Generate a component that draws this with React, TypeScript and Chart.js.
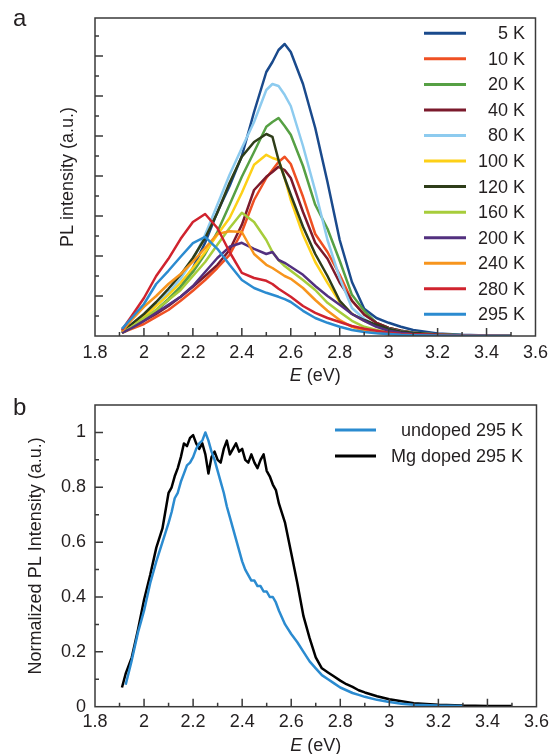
import React, { useEffect, useRef } from "react";
import { Chart, registerables } from "chart.js";

Chart.register(...registerables);

const FONT = "'Liberation Sans', Arial, Helvetica, sans-serif";
const INK = "#231f20";
const FRAME = "#3a3a3a";

// ---------- Panel a: PL spectra vs temperature ----------
const E_A = [1.91, 1.95, 2.0, 2.05, 2.1, 2.15, 2.2, 2.25, 2.3, 2.35, 2.4, 2.45, 2.5, 2.525, 2.55, 2.575, 2.6, 2.65, 2.7, 2.75, 2.8, 2.85, 2.9, 2.95, 3.0, 3.05, 3.1, 3.2, 3.3, 3.4, 3.5];
const TEMPS = ["5 K", "10 K", "20 K", "40 K", "80 K", "100 K", "120 K", "160 K", "200 K", "240 K", "280 K", "295 K"];
const COLORS_A = ["#1a4a8c", "#ef5023", "#56a044", "#7b1a2c", "#8dcbef", "#fdd017", "#2e3d19", "#a7cd3b", "#52307f", "#f7951d", "#d0232e", "#2b8bd0"];

const S5 = [0.08, 0.2, 0.4, 0.63, 0.9, 1.23, 1.7, 2.33, 3.1, 3.75, 4.5, 5.6, 6.6, 6.85, 7.15, 7.3, 7.1, 6.3, 5.2, 3.85, 2.4, 1.35, 0.68, 0.45, 0.33, 0.23, 0.15, 0.06, 0.03, 0.015, 0.01];
const S10 = [0.08, 0.18, 0.3, 0.48, 0.65, 0.88, 1.13, 1.4, 1.7, 2.03, 2.6, 3.4, 3.95, 4.15, 4.35, 4.48, 4.3, 3.48, 2.55, 2.1, 1.53, 0.88, 0.55, 0.33, 0.2, 0.13, 0.08, 0.03, 0.015, 0.01, 0.005];
const S20 = [0.08, 0.2, 0.4, 0.65, 0.93, 1.23, 1.6, 2.05, 2.6, 3.28, 3.98, 4.6, 5.23, 5.35, 5.45, 5.25, 5.03, 4.25, 3.28, 2.68, 1.88, 1.03, 0.63, 0.33, 0.2, 0.13, 0.08, 0.04, 0.02, 0.01, 0.005];
const S40 = [0.1, 0.23, 0.38, 0.55, 0.75, 0.98, 1.23, 1.5, 1.78, 2.15, 2.78, 3.65, 3.98, 4.1, 4.23, 4.15, 3.95, 3.1, 2.33, 1.93, 1.33, 0.88, 0.53, 0.33, 0.2, 0.13, 0.08, 0.03, 0.015, 0.01, 0.005];
const S80 = [0.1, 0.28, 0.5, 0.78, 1.08, 1.43, 1.9, 2.53, 3.28, 4.03, 4.7, 5.35, 6.15, 6.3, 6.25, 6.03, 5.75, 4.75, 3.63, 2.4, 1.45, 0.7, 0.43, 0.25, 0.18, 0.11, 0.08, 0.04, 0.02, 0.01, 0.005];
const S100 = [0.1, 0.25, 0.48, 0.75, 1.03, 1.33, 1.7, 2.1, 2.53, 2.95, 3.58, 4.28, 4.53, 4.45, 4.4, 3.95, 3.4, 2.53, 1.85, 1.33, 0.85, 0.55, 0.38, 0.25, 0.15, 0.1, 0.06, 0.03, 0.015, 0.01, 0.005];
const S120 = [0.13, 0.3, 0.55, 0.85, 1.18, 1.53, 1.95, 2.45, 3.08, 3.83, 4.48, 4.85, 5.05, 4.98, 4.4, 3.95, 3.53, 2.73, 2.05, 1.5, 0.88, 0.55, 0.4, 0.28, 0.18, 0.11, 0.08, 0.04, 0.02, 0.01, 0.005];
const S160 = [0.08, 0.23, 0.45, 0.65, 0.9, 1.15, 1.5, 1.85, 2.28, 2.7, 3.08, 2.85, 2.4, 2.1, 1.9, 1.75, 1.63, 1.4, 1.15, 0.83, 0.6, 0.38, 0.23, 0.15, 0.09, 0.05, 0.04, 0.02, 0.01, 0.005, 0.005];
const S200 = [0.08, 0.2, 0.38, 0.58, 0.78, 0.98, 1.25, 1.6, 1.95, 2.23, 2.33, 2.18, 2.05, 2.1, 1.9, 1.83, 1.73, 1.53, 1.25, 1.0, 0.78, 0.55, 0.38, 0.23, 0.13, 0.08, 0.05, 0.02, 0.01, 0.005, 0.005];
const S240 = [0.12, 0.4, 0.73, 1.0, 1.3, 1.55, 1.86, 2.2, 2.55, 2.62, 2.6, 2.05, 1.78, 1.7, 1.6, 1.5, 1.43, 1.2, 0.9, 0.63, 0.4, 0.23, 0.13, 0.08, 0.04, 0.03, 0.02, 0.01, 0.005, 0.005, 0.005];
const S280 = [0.15, 0.5, 0.95, 1.5, 1.93, 2.43, 2.85, 3.05, 2.7, 2.1, 1.58, 1.45, 1.38, 1.3, 1.18, 1.08, 0.98, 0.75, 0.58, 0.45, 0.35, 0.25, 0.18, 0.13, 0.08, 0.05, 0.04, 0.03, 0.01, 0.01, 0.005];
const S295 = [0.18, 0.45, 0.8, 1.3, 1.63, 1.98, 2.32, 2.48, 2.18, 1.78, 1.4, 1.2, 1.08, 1.03, 0.98, 0.92, 0.85, 0.63, 0.45, 0.33, 0.23, 0.15, 0.1, 0.07, 0.05, 0.03, 0.02, 0.01, 0.005, 0.005, 0.005];
const SERIES_A = [S5, S10, S20, S40, S80, S100, S120, S160, S200, S240, S280, S295];

// ---------- Panel b: normalized spectra ----------
const E_B = [
  1.91, 1.925, 1.95, 1.975, 2.0, 2.025, 2.05, 2.075,
  2.1, 2.1125, 2.125, 2.1375, 2.15, 2.1625, 2.175, 2.1875, 2.2, 2.2125, 2.225, 2.2375, 2.25,
  2.2625, 2.275, 2.2875, 2.3, 2.3125, 2.325, 2.3375, 2.35, 2.3625, 2.375, 2.3875, 2.4,
  2.4125, 2.425, 2.4375, 2.45, 2.4625, 2.475, 2.4875, 2.5, 2.5125, 2.525, 2.5375, 2.55,
  2.575, 2.6, 2.625, 2.65, 2.675, 2.7, 2.725, 2.75, 2.775, 2.8, 2.825, 2.85, 2.875, 2.9,
  2.95, 3.0, 3.05, 3.1, 3.2, 3.3, 3.4, 3.5,
];
const UNDOPED = [
  null, 0.08, 0.17, 0.27, 0.35, 0.45, 0.53, 0.6,
  0.67, 0.71, 0.76, 0.78, 0.82, 0.85, 0.88, 0.89, 0.91, 0.94, 0.96, 0.97, 1.0,
  0.97, 0.93, 0.9, 0.86, 0.82, 0.78, 0.73, 0.69, 0.65, 0.61, 0.57, 0.53,
  0.5, 0.48, 0.46, 0.46, 0.44, 0.44, 0.42, 0.42, 0.4, 0.4, 0.38, 0.35,
  0.3, 0.265, 0.235, 0.2, 0.165, 0.14, 0.115, 0.1, 0.085, 0.07, 0.06, 0.05, 0.043, 0.036,
  0.025, 0.017, 0.011, 0.007, 0.004, 0.003, null, null,
];
const MG_DOPED = [
  0.07, 0.12, 0.18, 0.28, 0.39, 0.48, 0.58, 0.65,
  0.78, 0.8, 0.84, 0.87, 0.91, 0.96, 0.95, 0.98, 0.99, 0.96, 0.94, 0.96, 0.92,
  0.85, 0.91, 0.93, 0.9, 0.89, 0.94, 0.97, 0.92, 0.94, 0.96, 0.93, 0.94,
  0.9, 0.89, 0.92, 0.89, 0.87, 0.9, 0.92, 0.86, 0.84, 0.81, 0.79, 0.74,
  0.67, 0.56, 0.45, 0.33, 0.25, 0.18, 0.14, 0.125, 0.11, 0.095, 0.082, 0.072, 0.06, 0.052,
  0.038, 0.027, 0.02, 0.013, 0.007, 0.004, 0.003, 0.003,
];
const LABELS_B = ["undoped 295 K", "Mg doped 295 K"];
const COLORS_B = ["#2b8bd0", "#000000"];

function toPoints(xs: number[], ys: (number | null)[]) {
  const out: { x: number; y: number }[] = [];
  xs.forEach((x, i) => {
    const y = ys[i];
    if (y !== null && y !== undefined) out.push({ x, y });
  });
  return out;
}

function isMultiple(v: number, step: number) {
  const r = v / step;
  return Math.abs(r - Math.round(r)) < 1e-6;
}
function fmt(v: number) {
  return String(Number(v.toFixed(1)));
}

const frameTicksPlugin = {
  id: "frameTicks",
  afterDatasetsDraw(chart: any, _args: any, opts: any) {
    const { ctx, chartArea } = chart;
    const { left, right, top, bottom } = chartArea;
    const xs = chart.scales.x;
    const ys = chart.scales.y;
    ctx.save();
    ctx.strokeStyle = FRAME;
    ctx.lineWidth = 1.5;
    ctx.beginPath();
    xs.ticks.forEach((t: any) => {
      const p = xs.getPixelForValue(t.value);
      if (Math.abs(p - left) < 1 || Math.abs(p - right) < 1) return;
      const len = isMultiple(t.value, opts.xMajor) ? 8 : 4;
      ctx.moveTo(p, bottom);
      ctx.lineTo(p, bottom - len);
    });
    ys.ticks.forEach((t: any) => {
      const p = ys.getPixelForValue(t.value);
      if (Math.abs(p - top) < 1 || Math.abs(p - bottom) < 1) return;
      const len = isMultiple(t.value, opts.yMajor) ? 8 : 4;
      ctx.moveTo(left, p);
      ctx.lineTo(left + len, p);
    });
    ctx.stroke();
    ctx.strokeRect(left, top, right - left, bottom - top);
    ctx.restore();
  },
};

const insideLegendPlugin = {
  id: "insideLegend",
  afterDraw(chart: any, _args: any, opts: any) {
    const ctx = chart.ctx;
    ctx.save();
    ctx.font = `18px ${FONT}`;
    ctx.textAlign = "right";
    ctx.textBaseline = "middle";
    chart.data.datasets.forEach((ds: any, i: number) => {
      const y = opts.y0 + i * opts.dy;
      ctx.strokeStyle = ds.borderColor;
      ctx.lineWidth = 3;
      ctx.beginPath();
      ctx.moveTo(opts.x1, y);
      ctx.lineTo(opts.x2, y);
      ctx.stroke();
      ctx.fillStyle = INK;
      ctx.fillText(ds.label, opts.xText, y + 1);
    });
    ctx.restore();
  },
};

const xTitlePlugin = {
  id: "xTitle",
  afterDraw(chart: any, _args: any, opts: any) {
    const { ctx, chartArea } = chart;
    const cx = (chartArea.left + chartArea.right) / 2;
    const fi = `italic 18px ${FONT}`;
    const fn = `18px ${FONT}`;
    ctx.save();
    ctx.fillStyle = INK;
    ctx.textBaseline = "middle";
    ctx.textAlign = "left";
    ctx.font = fi;
    const w1 = ctx.measureText(opts.italic).width;
    ctx.font = fn;
    const w2 = ctx.measureText(opts.rest).width;
    const x0 = cx - (w1 + w2) / 2;
    ctx.font = fi;
    ctx.fillText(opts.italic, x0, opts.y);
    ctx.font = fn;
    ctx.fillText(opts.rest, x0 + w1, opts.y);
    ctx.restore();
  },
};

const panelLetterPlugin = {
  id: "panelLetter",
  afterDraw(chart: any, _args: any, opts: any) {
    const ctx = chart.ctx;
    ctx.save();
    ctx.fillStyle = INK;
    ctx.font = `24px ${FONT}`;
    ctx.textAlign = "left";
    ctx.textBaseline = "alphabetic";
    ctx.fillText(opts.text, opts.x, opts.y);
    ctx.restore();
  },
};

const tickFont = { family: FONT, size: 18 };

function xScale(height: number, pad: number) {
  return {
    type: "linear",
    min: 1.8,
    max: 3.6,
    grid: { display: false, drawTicks: false },
    border: { display: false },
    ticks: {
      stepSize: 0.1,
      autoSkip: false,
      maxRotation: 0,
      padding: pad,
      color: INK,
      font: tickFont,
      callback: (v: number) => (isMultiple(v, 0.2) ? fmt(v) : ""),
    },
    afterFit: (s: any) => {
      s.height = height;
    },
  };
}

function configA(): any {
  const n = SERIES_A.length;
  return {
    type: "line",
    data: {
      datasets: SERIES_A.map((s, i) => ({
        label: TEMPS[i],
        data: toPoints(E_A, s),
        borderColor: COLORS_A[i],
        backgroundColor: COLORS_A[i],
        borderWidth: 2.5,
        pointRadius: 0,
        tension: 0,
        borderJoinStyle: "round",
        order: n - i,
      })),
    },
    options: {
      animation: false,
      responsive: false,
      devicePixelRatio: 1,
      parsing: false,
      layout: { padding: { left: 0, right: 15, top: 18, bottom: 0 } },
      scales: {
        x: xScale(49, 6),
        y: {
          type: "linear",
          min: 0,
          max: 7.95,
          grid: { display: false, drawTicks: false },
          border: { display: false },
          ticks: { stepSize: 0.5, display: false },
          title: {
            display: true,
            text: "PL intensity (a.u.)",
            color: INK,
            font: tickFont,
            padding: { top: 57, bottom: 0 },
          },
          afterFit: (s: any) => {
            s.width = 95;
          },
        },
      },
      plugins: {
        legend: { display: false },
        tooltip: { enabled: false },
        frameTicks: { xMajor: 0.2, yMajor: 1 },
        insideLegend: { x1: 424, x2: 466, xText: 525, y0: 33.3, dy: 25.55 },
        xTitle: { italic: "E", rest: " (eV)", y: 376 },
        panelLetter: { text: "a", x: 13, y: 26 },
      },
    },
    plugins: [frameTicksPlugin, insideLegendPlugin, xTitlePlugin, panelLetterPlugin],
  };
}

function configB(): any {
  const series = [UNDOPED, MG_DOPED];
  return {
    type: "line",
    data: {
      datasets: series.map((s, i) => ({
        label: LABELS_B[i],
        data: toPoints(E_B, s),
        borderColor: COLORS_B[i],
        backgroundColor: COLORS_B[i],
        borderWidth: 2.5,
        pointRadius: 0,
        tension: 0,
        borderJoinStyle: "round",
        order: i,
      })),
    },
    options: {
      animation: false,
      responsive: false,
      devicePixelRatio: 1,
      parsing: false,
      layout: { padding: { left: 0, right: 15, top: 20, bottom: 0 } },
      scales: {
        x: xScale(47.3, 5),
        y: {
          type: "linear",
          min: 0,
          max: 1.1,
          grid: { display: false, drawTicks: false },
          border: { display: false },
          ticks: {
            stepSize: 0.1,
            padding: 9,
            color: INK,
            font: tickFont,
            callback: (v: number) => (isMultiple(v, 0.2) ? fmt(v) : ""),
          },
          title: {
            display: true,
            text: "Normalized PL Intensity (a.u.)",
            color: INK,
            font: tickFont,
            padding: { top: 25, bottom: 0 },
          },
          afterFit: (s: any) => {
            s.width = 95;
          },
        },
      },
      plugins: {
        legend: { display: false },
        tooltip: { enabled: false },
        frameTicks: { xMajor: 0.2, yMajor: 0.2 },
        insideLegend: { x1: 335, x2: 376, xText: 523, y0: 45, dy: 26 },
        xTitle: { italic: "E", rest: " (eV)", y: 361 },
        panelLetter: { text: "b", x: 13, y: 30 },
      },
    },
    plugins: [frameTicksPlugin, insideLegendPlugin, xTitlePlugin, panelLetterPlugin],
  };
}

export default function App() {
  const refA = useRef<HTMLCanvasElement>(null);
  const refB = useRef<HTMLCanvasElement>(null);

  useEffect(() => {
    const a = new Chart(refA.current as HTMLCanvasElement, configA());
    const b = new Chart(refB.current as HTMLCanvasElement, configB());
    return () => {
      a.destroy();
      b.destroy();
    };
  }, []);

  return (
    <div style={{ position: "absolute", left: 0, top: 0, width: 554, height: 754, background: "#ffffff" }}>
      <div style={{ position: "absolute", left: 0, top: 0, width: 554, height: 385 }}>
        <canvas ref={refA} width={554} height={385} style={{ display: "block" }} />
      </div>
      <div style={{ position: "absolute", left: 0, top: 385, width: 554, height: 369 }}>
        <canvas ref={refB} width={554} height={369} style={{ display: "block" }} />
      </div>
    </div>
  );
}
